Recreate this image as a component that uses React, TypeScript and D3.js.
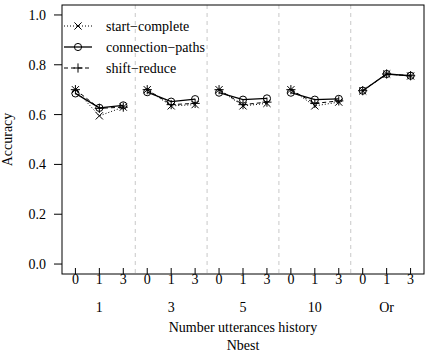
import { useEffect, useRef } from 'react'
import * as d3 from 'd3'

// nbest groups and history sizes
const groups = ['1', '3', '5', '10', 'Or']
const history = ['0', '1', '3']
const yTicks = [0, 0.2, 0.4, 0.6, 0.8, 1.0]

// accuracy values, 3 per group (history 0, 1, 3)
const startComplete = [0.70, 0.595, 0.63, 0.70, 0.635, 0.64, 0.70, 0.635, 0.645, 0.70, 0.635, 0.65, 0.695, 0.763, 0.755]
const connectionPaths = [0.685, 0.627, 0.637, 0.69, 0.652, 0.662, 0.688, 0.66, 0.665, 0.688, 0.66, 0.663, 0.696, 0.763, 0.756]
const shiftReduce = [0.70, 0.625, 0.63, 0.70, 0.64, 0.645, 0.70, 0.64, 0.65, 0.70, 0.645, 0.655, 0.696, 0.763, 0.756]

const series = [
  { name: 'start\u2212complete', values: startComplete, dash: '1,2', marker: 'x' },
  { name: 'connection\u2212paths', values: connectionPaths, dash: null, marker: 'o' },
  { name: 'shift\u2212reduce', values: shiftReduce, dash: '4,3', marker: '+' },
]

const W = 427
const H = 352
const FONT = 'Liberation Serif, Tinos, Times New Roman, DejaVu Serif, serif'

const App = () => {
  const ref = useRef<SVGSVGElement>(null)

  useEffect(() => {
    if (!ref.current) return
    const svg = d3.select(ref.current)
    svg.selectAll('*').remove()

    const left = 62, right = 424, top = 5, bottom = 274
    const n = groups.length * history.length

    const x = d3.scaleLinear().domain([-0.56, n - 1 + 0.56]).range([left, right])
    const y = d3.scaleLinear().domain([-0.04, 1.04]).range([bottom, top])

    // group separators
    for (let g = 1; g < groups.length; g++) {
      const sx = x(g * 3 - 0.5)
      svg.append('line')
        .attr('x1', sx).attr('x2', sx)
        .attr('y1', top).attr('y2', bottom)
        .attr('stroke', '#c8c8c8')
        .attr('stroke-dasharray', '4,4')
    }

    // marker drawing
    const drawMarker = (g: any, type: string, cx: number, cy: number) => {
      const s = 3.6
      if (type === 'x') {
        g.append('path')
          .attr('d', `M${cx - s},${cy - s}L${cx + s},${cy + s}M${cx - s},${cy + s}L${cx + s},${cy - s}`)
          .attr('stroke', '#000').attr('fill', 'none')
      } else if (type === '+') {
        const p = 4.6
        g.append('path')
          .attr('d', `M${cx - p},${cy}L${cx + p},${cy}M${cx},${cy - p}L${cx},${cy + p}`)
          .attr('stroke', '#000').attr('fill', 'none')
      } else {
        g.append('circle')
          .attr('cx', cx).attr('cy', cy).attr('r', 3.6)
          .attr('stroke', '#000').attr('fill', 'none')
      }
    }

    // lines per group, then markers
    series.forEach(s => {
      groups.forEach((_, g) => {
        const seg = s.values.slice(g * 3, g * 3 + 3)
        const l = d3.line<number>().x((_, i) => x(g * 3 + i)).y(d => y(d))
        svg.append('path')
          .attr('d', l(seg))
          .attr('fill', 'none')
          .attr('stroke', '#000')
          .attr('stroke-width', s.dash ? 1 : 1.3)
          .attr('stroke-dasharray', s.dash)
      })
      s.values.forEach((v, i) => drawMarker(svg, s.marker, x(i), y(v)))
    })

    // box
    svg.append('rect')
      .attr('x', left).attr('y', top)
      .attr('width', right - left).attr('height', bottom - top)
      .attr('fill', 'none').attr('stroke', '#000')

    const txt = (sel: any) => sel.attr('font-family', FONT).attr('font-size', 14)

    // y axis
    yTicks.forEach(t => {
      svg.append('line')
        .attr('x1', left - 8).attr('x2', left)
        .attr('y1', y(t)).attr('y2', y(t))
        .attr('stroke', '#000')
      svg.append('text')
        .attr('x', 46).attr('y', y(t) + 5)
        .attr('text-anchor', 'end')
        .call(txt)
        .text(d3.format('.1f')(t))
    })

    // x axis
    for (let i = 0; i < n; i++) {
      svg.append('line')
        .attr('x1', x(i)).attr('x2', x(i))
        .attr('y1', bottom).attr('y2', bottom - 6)
        .attr('stroke', '#000')
      svg.append('text')
        .attr('x', x(i)).attr('y', 284)
        .attr('text-anchor', 'middle')
        .call(txt)
        .text(history[i % 3])
    }
    groups.forEach((g, gi) => {
      svg.append('text')
        .attr('x', x(gi * 3 + 1)).attr('y', 312)
        .attr('text-anchor', 'middle')
        .call(txt)
        .text(g)
    })

    svg.append('text')
      .attr('x', (left + right) / 2).attr('y', 332)
      .attr('text-anchor', 'middle')
      .call(txt)
      .text('Number utterances history')
    svg.append('text')
      .attr('x', (left + right) / 2).attr('y', 350)
      .attr('text-anchor', 'middle')
      .call(txt)
      .text('Nbest')

    svg.append('text')
      .attr('transform', `translate(12,${(top + bottom) / 2}) rotate(-90)`)
      .attr('text-anchor', 'middle')
      .call(txt)
      .text('Accuracy')

    // legend
    series.forEach((s, i) => {
      const ly = 26 + i * 21
      svg.append('line')
        .attr('x1', 64).attr('x2', 92)
        .attr('y1', ly).attr('y2', ly)
        .attr('stroke', '#000')
        .attr('stroke-width', s.dash ? 1 : 1.3)
        .attr('stroke-dasharray', s.dash)
      drawMarker(svg, s.marker, 78, ly)
      svg.append('text')
        .attr('x', 106).attr('y', ly + 5)
        .call(txt)
        .text(s.name)
    })
  }, [])

  return (
    <svg
      ref={ref}
      width={W}
      height={H}
      style={{ position: 'absolute', left: 0, top: 0, background: '#fff' }}
    />
  )
}

export default App
